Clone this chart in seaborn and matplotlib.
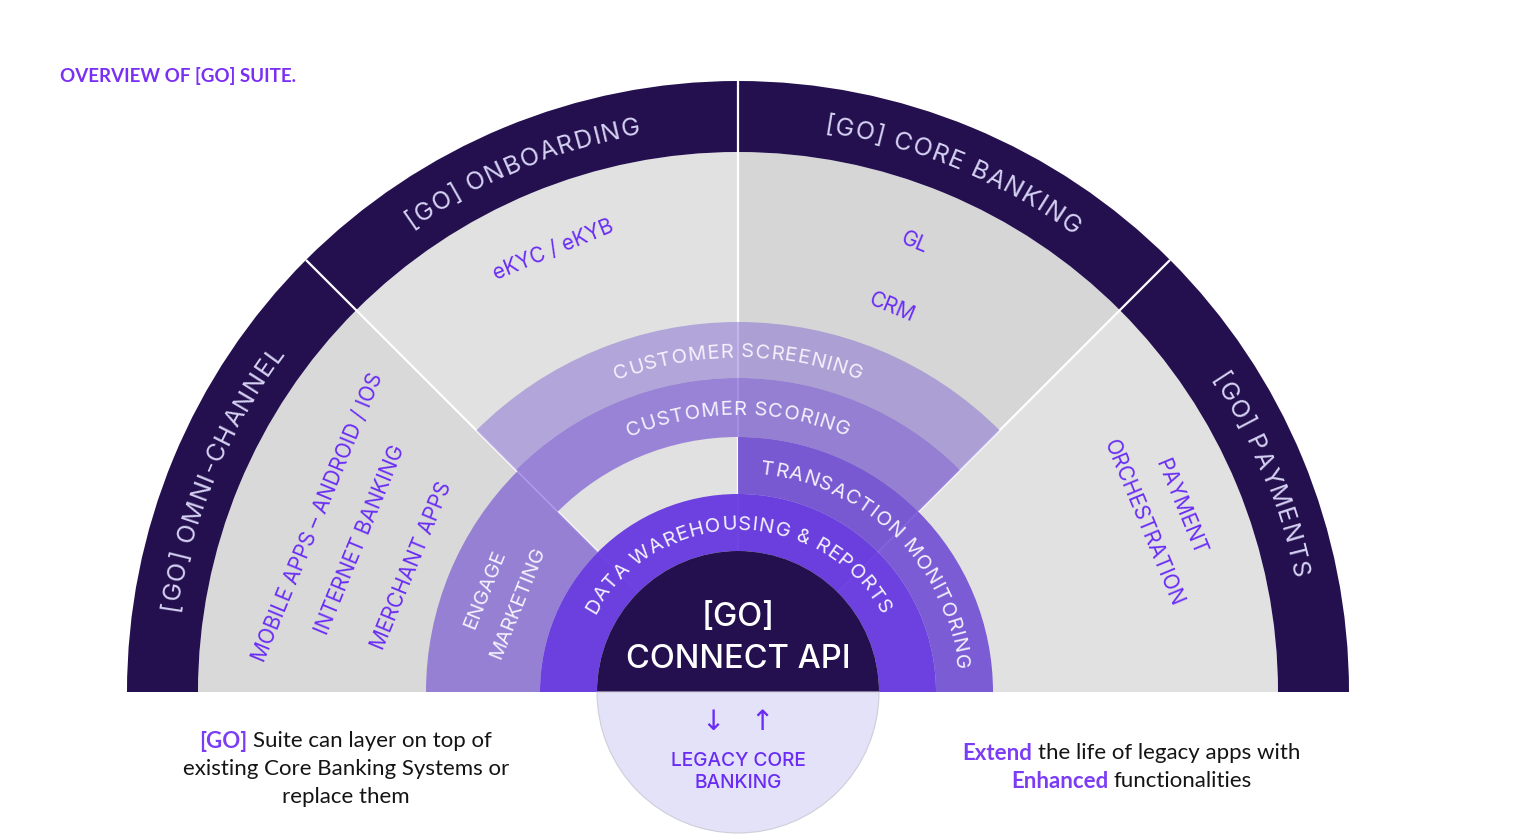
import numpy as np
import matplotlib
matplotlib.use("Agg")
import matplotlib.pyplot as plt
from matplotlib.patches import Wedge
from matplotlib.font_manager import FontProperties
from matplotlib.textpath import TextToPath
import seaborn as sns

sns.set_theme(style="white")
plt.rcParams["font.family"] = ["Inter", "DejaVu Sans"]

# ---------------------------------------------------------------- content
title = "OVERVIEW OF [GO] SUITE."
sectors = ["[GO] OMNI-CHANNEL", "[GO] ONBOARDING", "[GO] CORE BANKING", "[GO] PAYMENTS"]
sector_span = [45, 45, 45, 45]          # degrees, left to right
sector_items = [
    ["MOBILE APPS – ANDROID / IOS", "INTERNET BANKING", "MERCHANT APPS"],
    ["eKYC / eKYB"],
    ["GL", "CRM"],
    ["PAYMENT", "ORCHESTRATION"],
]
layers = ["CUSTOMER SCREENING", "CUSTOMER SCORING", "ENGAGE\nMARKETING",
          "TRANSACTION MONITORING", "DATA WAREHOUSING & REPORTS"]
layer_first = [1, 1, 0, 2, 0]           # first sector a layer covers
layer_last = [2, 2, 0, 3, 3]            # last sector a layer covers
hub = ["[GO]", "CONNECT API"]
legacy = ["LEGACY CORE", "BANKING"]
note_left = [[("[GO]", True), ("Suite can layer on top of", False)],
             [("existing Core Banking Systems or", False)],
             [("replace them", False)]]
note_right = [[("Extend", True), ("the life of legacy apps with", False)],
              [("Enhanced", True), ("functionalities", False)]]

# ---------------------------------------------------------------- layout / style
W, H = 1536, 840
cx, cy = 738, 148
r_out, r_dark, r_hub = 611, 540, 141
layer_r = [(314, 370), (255, 314), (198, 312), (198, 255), (141, 198)]
item_r = [[455, 407, 350], [479], [483, 414], [479, 439]]
item_da = [[0.0, 0.6, 1.4], [0.2], [1.0, 0.6], [0.2, 0.1]]

dark = "#24104f"
grays = ["#d9d9d9", "#e1e1e1", "#d6d6d6", "#e1e1e1"]
layer_col = ["#7a5cd0", "#6a45d0", "#6a45d0", "#5a2fd0", "#5f2fe0"]
layer_alpha = [0.45, 0.6, 0.6, 0.75, 0.9]
purple = "#6a2cf5"
ring_txt = "#d6d2f3"
layer_txt = "#f4f2fd"

PX = 100 / 72
ttp = TextToPath()


def text_w(s, size, weight="normal", family=None):
    fp = FontProperties(family=family or ["Inter", "DejaVu Sans"], size=size, weight=weight)
    w, h, d = ttp.get_text_width_height_descent(s, fp, ismath=False)
    return w * PX


def arc_text(ax, s, r, theta_c, size, color, track=0.0, weight="normal"):
    full = text_w(s, size, weight) + track * (len(s) - 1)
    for i, ch in enumerate(s):
        if ch == " ":
            continue
        wi = text_w(ch, size, weight)
        mid = text_w(s[:i + 1], size, weight) - wi / 2 + track * i
        th = np.radians(theta_c) - (mid - full / 2) / r
        ax.text(cx + r * np.cos(th), cy + r * np.sin(th), ch, color=color,
                fontsize=size, fontweight=weight, rotation=np.degrees(th) - 90,
                rotation_mode="anchor", ha="center", va="baseline", zorder=10)


def cap_px(size):
    return 0.727 * size * PX


def rich_line(ax, parts, xc, y, size, hi_color, fam="Lato"):
    sp = text_w("a a", size, family=[fam]) - text_w("aa", size, family=[fam])
    widths = [text_w(t, size, "bold" if b else "normal", [fam]) for t, b in parts]
    x = xc - (sum(widths) + sp * (len(parts) - 1)) / 2
    for (t, b), w in zip(parts, widths):
        ax.text(x, y, t, fontsize=size, family=fam, fontweight="bold" if b else "normal",
                color=hi_color if b else "#141414", ha="left", va="center")
        x += w + sp


fig = plt.figure(figsize=(W / 100, H / 100), dpi=100)
ax = fig.add_axes([0, 0, 1, 1])
ax.set_xlim(0, W)
ax.set_ylim(0, H)
ax.axis("off")

edges = 180 - np.concatenate([[0], np.cumsum(sector_span)])
mids = (edges[:-1] + edges[1:]) / 2

# sectors: gray fields and dark outer band
for i, name in enumerate(sectors):
    a1, a2 = edges[i + 1], edges[i]
    ax.add_patch(Wedge((cx, cy), r_dark, a1, a2, facecolor=grays[i], lw=0, zorder=1))
    ax.add_patch(Wedge((cx, cy), r_out, a1, a2, width=r_out - r_dark,
                       facecolor=dark, lw=0, zorder=2))
    arc_text(ax, name, (r_out + r_dark) / 2 - cap_px(18) / 2, mids[i], 18, ring_txt,
             track=1.3)
    for j, item in enumerate(sector_items[i]):
        th = np.radians(mids[i] + item_da[i][j])
        ax.text(cx + item_r[i][j] * np.cos(th), cy + item_r[i][j] * np.sin(th), item,
                color=purple, fontsize=15, rotation=mids[i] - 90, rotation_mode="anchor",
                ha="center", va="center", zorder=4)

# white separators
for a in edges[1:-1]:
    t = np.radians(a)
    ax.plot([cx + r_hub * np.cos(t), cx + r_out * np.cos(t)],
            [cy + r_hub * np.sin(t), cy + r_out * np.sin(t)],
            color="white", lw=1.6, zorder=3, solid_capstyle="butt")

# translucent capability layers
for k, name in enumerate(layers):
    a2, a1 = edges[layer_first[k]], edges[layer_last[k] + 1]
    r0, r1 = layer_r[k]
    ax.add_patch(Wedge((cx, cy), r1, a1, a2, width=r1 - r0, facecolor=layer_col[k],
                       alpha=layer_alpha[k], lw=0, zorder=5))
    if "\n" in name:
        lines = name.split("\n")
        mid_a = (a1 + a2) / 2 + 0.5
        for j, ln in enumerate(lines):
            rr = (r0 + r1) / 2 + 18 - 36 * j
            th = np.radians(mid_a)
            ax.text(cx + rr * np.cos(th), cy + rr * np.sin(th), ln, color=layer_txt,
                    fontsize=14.5, rotation=mid_a - 90,
                    rotation_mode="anchor", ha="center", va="center", zorder=10)
    else:
        arc_text(ax, name, (r0 + r1) / 2 - cap_px(14.5) / 2, (a1 + a2) / 2, 14.5, layer_txt,
                 track=0.8)

# hub and legacy core
ax.add_patch(Wedge((cx, cy), r_hub, 0, 180, facecolor=dark, lw=0, zorder=6))
ax.add_patch(Wedge((cx, cy), r_hub, 180, 360, facecolor="#e4e2f8", edgecolor="#cfcdd9",
                   lw=0.8, zorder=6))
for j, ln in enumerate(hub):
    ax.text(cx, 222 - 41 * j, ln, color="white", fontsize=23.5, fontweight="medium",
            ha="center", va="center", zorder=10)
ax.text(cx - 25, 118, "↓", color=purple, fontsize=20, family="DejaVu Sans",
        ha="center", va="center", zorder=10)
ax.text(cx + 24, 118, "↑", color=purple, fontsize=20, family="DejaVu Sans",
        ha="center", va="center", zorder=10)
for j, ln in enumerate(legacy):
    ax.text(cx, 79 - 22 * j, ln, color=purple, fontsize=13.8, fontweight="medium",
            ha="center", va="center", zorder=10)

# title and notes
ax.text(60, 764, title, color="#7a2ff5", fontsize=13.5, family="Lato",
        fontweight="bold", ha="left", va="center")
for j, parts in enumerate(note_left):
    rich_line(ax, parts, 345, 99 - 28 * j, 16, "#7b3cf5")
for j, parts in enumerate(note_right):
    rich_line(ax, parts, 1131, 87 - 28 * j, 16, "#7b3cf5")

fig.savefig("out.png", dpi=100, facecolor="white")
